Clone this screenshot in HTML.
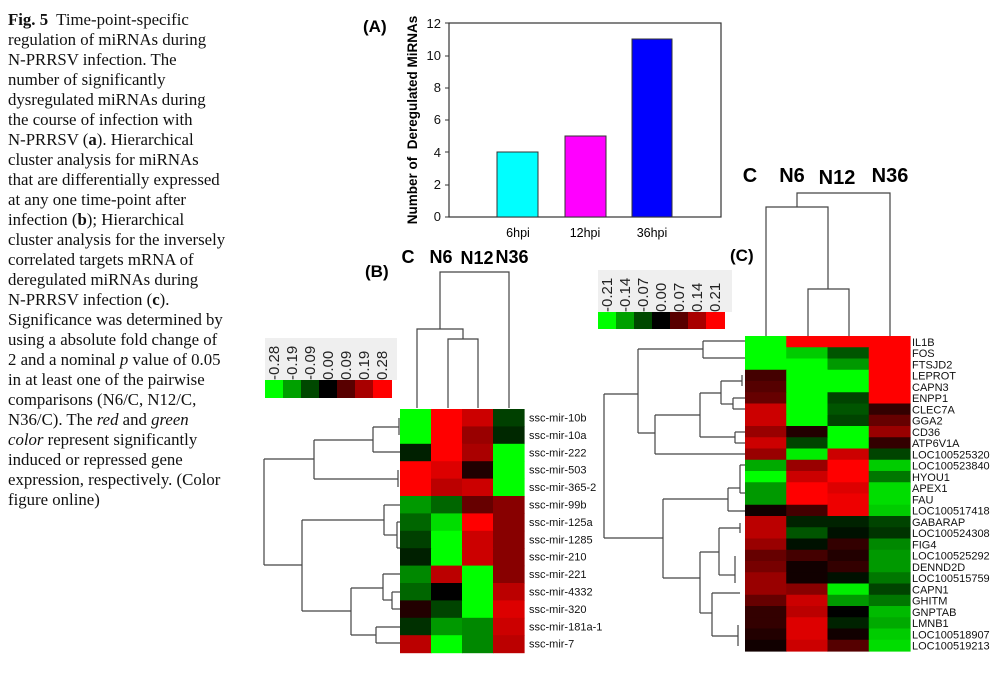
<!DOCTYPE html>
<html><head><meta charset="utf-8"><style>
body{margin:0;background:#fff;width:1007px;height:685px;overflow:hidden;position:relative}
.cap{position:absolute;left:8px;top:0;font-family:"Liberation Serif",serif;font-size:16.8px;color:#111}
.cap div{position:absolute;left:0;white-space:nowrap}
svg{position:absolute;left:0;top:0}
</style></head><body>
<div class="cap">
<div style="top:10px"><b>Fig. 5</b>&nbsp; Time-point-specific</div>
<div style="top:30px">regulation of miRNAs during</div>
<div style="top:50px">N-PRRSV infection. The</div>
<div style="top:70px">number of significantly</div>
<div style="top:90px">dysregulated miRNAs during</div>
<div style="top:110px">the course of infection with</div>
<div style="top:130px">N-PRRSV (<b>a</b>). Hierarchical</div>
<div style="top:150px">cluster analysis for miRNAs</div>
<div style="top:170px">that are differentially expressed</div>
<div style="top:190px">at any one time-point after</div>
<div style="top:210px">infection (<b>b</b>); Hierarchical</div>
<div style="top:230px">cluster analysis for the inversely</div>
<div style="top:250px">correlated targets mRNA of</div>
<div style="top:270px">deregulated miRNAs during</div>
<div style="top:290px">N-PRRSV infection (<b>c</b>).</div>
<div style="top:310px">Significance was determined by</div>
<div style="top:330px">using a absolute fold change of</div>
<div style="top:350px">2 and a nominal <i>p</i> value of 0.05</div>
<div style="top:370px">in at least one of the pairwise</div>
<div style="top:390px">comparisons (N6/C, N12/C,</div>
<div style="top:410px">N36/C). The <i>red</i> and <i>green</i></div>
<div style="top:430px"><i>color</i> represent significantly</div>
<div style="top:450px">induced or repressed gene</div>
<div style="top:470px">expression, respectively. (Color</div>
<div style="top:490px">figure online)</div>
</div>
<svg width="1007" height="685" font-family="Liberation Sans, sans-serif">
<!-- Panel A -->
<text x="363" y="32" font-size="17" font-weight="bold">(A)</text>
<rect x="449" y="23" width="272" height="194" fill="none" stroke="#333" stroke-width="1.2"/>
<g font-size="13" text-anchor="end" fill="#111">
<text x="441" y="221">0</text><text x="441" y="189">2</text><text x="441" y="157">4</text>
<text x="441" y="124">6</text><text x="441" y="92">8</text><text x="441" y="60">10</text><text x="441" y="28">12</text>
</g>
<g stroke="#333"><line x1="445" y1="217" x2="449" y2="217"/><line x1="445" y1="185" x2="449" y2="185"/><line x1="445" y1="152" x2="449" y2="152"/><line x1="445" y1="120" x2="449" y2="120"/><line x1="445" y1="88" x2="449" y2="88"/><line x1="445" y1="56" x2="449" y2="56"/><line x1="445" y1="23" x2="449" y2="23"/></g>
<text transform="translate(417,120) rotate(-90)" font-size="13.5" font-weight="bold" text-anchor="middle">Number of&#160; Deregulated MiRNAs</text>
<rect x="497" y="152" width="41" height="65" fill="#00ffff" stroke="#333"/>
<rect x="565" y="136" width="41" height="81" fill="#ff00ff" stroke="#333"/>
<rect x="632" y="39" width="40" height="178" fill="#0000ff" stroke="#333"/>
<g font-size="12.5" text-anchor="middle"><text x="518" y="237">6hpi</text><text x="585" y="237">12hpi</text><text x="652" y="237">36hpi</text></g>

<!-- Panel B -->
<text x="365" y="277" font-size="17" font-weight="bold">(B)</text>
<g font-size="18" font-weight="bold" text-anchor="middle"><text x="408" y="263">C</text><text x="441" y="263">N6</text><text x="477" y="264">N12</text><text x="512" y="263">N36</text></g>
<g fill="none" stroke="#444" stroke-width="1.2">
<polyline points="417,408 417,329 463,329 463,339"/>
<polyline points="448,408 448,339 478,339 478,408"/>
<polyline points="440,329 440,272 509,272 509,408"/>
<polyline points="264,459 264,565"/>
<polyline points="264,459 314,459"/><polyline points="314,440 314,479"/>
<polyline points="314,440 373,440"/><polyline points="373,427 373,452"/>
<polyline points="373,427 399,427"/><polyline points="399,418 399,435"/>
<polyline points="373,452 400,452"/>
<polyline points="314,479 398,479"/><polyline points="398,470 398,487"/>
<polyline points="264,565 302,565"/><polyline points="302,520 302,611"/>
<polyline points="302,520 384,520"/><polyline points="384,505 384,535"/>
<polyline points="384,505 400,505"/><polyline points="384,535 397,535"/><polyline points="397,522 397,548"/><polyline points="397,522 400,522"/><polyline points="397,548 400,548"/>
<polyline points="302,611 351,611"/><polyline points="351,588 351,635"/>
<polyline points="351,588 383,588"/><polyline points="383,574 383,600"/><polyline points="383,574 400,574"/><polyline points="383,600 392,600"/><polyline points="392,592 392,609"/><polyline points="392,592 400,592"/><polyline points="392,609 400,609"/>
<polyline points="351,635 376,635"/><polyline points="376,627 376,643"/><polyline points="376,627 400,627"/><polyline points="376,643 400,643"/>
</g>
<rect x="265" y="338" width="132" height="42" fill="#efefef"/>
<g font-size="15" fill="#222">
<text transform="translate(279,380) rotate(-90)">-0.28</text>
<text transform="translate(297,380) rotate(-90)">-0.19</text>
<text transform="translate(315,380) rotate(-90)">-0.09</text>
<text transform="translate(333,380) rotate(-90)">0.00</text>
<text transform="translate(351,380) rotate(-90)">0.09</text>
<text transform="translate(369,380) rotate(-90)">0.19</text>
<text transform="translate(387,380) rotate(-90)">0.28</text>
</g>
<rect x="265" y="380" width="19" height="18" fill="#00ff00"/><rect x="283" y="380" width="19" height="18" fill="#00a000"/><rect x="301" y="380" width="19" height="18" fill="#004800"/><rect x="319" y="380" width="19" height="18" fill="#000"/><rect x="337" y="380" width="19" height="18" fill="#580000"/><rect x="355" y="380" width="19" height="18" fill="#a80000"/><rect x="373" y="380" width="19" height="18" fill="#ff0000"/>
<g id="hb"></g>
<g font-size="11" fill="#111" id="lb"></g>

<!-- Panel C -->
<text x="730" y="261" font-size="17" font-weight="bold">(C)</text>
<g font-size="20" font-weight="bold" text-anchor="middle"><text x="750" y="182">C</text><text x="792" y="182">N6</text><text x="837" y="184">N12</text><text x="890" y="182">N36</text></g>
<g fill="none" stroke="#444" stroke-width="1.2">
<polyline points="766,336 766,207 828,207 828,289"/>
<polyline points="808,336 808,289 849,289 849,336"/>
<polyline points="797,207 797,193 890,193 890,336"/>
<polyline points="604,394 604,538"/>
<polyline points="604,394 638,394"/><polyline points="638,349 638,433"/>
<polyline points="638,349 703,349"/><polyline points="703,341 703,358"/><polyline points="703,341 745,341"/><polyline points="703,358 745,358"/>
<polyline points="638,433 655,433"/><polyline points="655,415 655,454"/><polyline points="655,454 745,454"/>
<polyline points="655,415 700,415"/><polyline points="700,393 700,437"/>
<polyline points="700,393 721,393"/><polyline points="721,381 721,404"/><polyline points="721,381 742,381"/><polyline points="742,375 742,386"/><polyline points="721,404 733,404"/><polyline points="733,398 733,409"/><polyline points="733,398 745,398"/><polyline points="733,409 745,409"/>
<polyline points="700,437 735,437"/><polyline points="735,432 735,443"/><polyline points="735,432 745,432"/><polyline points="735,443 745,443"/>
<polyline points="604,538 663,538"/><polyline points="663,499 663,578"/>
<polyline points="663,499 728,499"/><polyline points="728,488 728,511"/><polyline points="728,488 740,488"/><polyline points="740,465 740,493"/><polyline points="740,465 745,465"/><polyline points="740,493 745,493"/><polyline points="728,511 745,511"/>
<polyline points="663,578 700,578"/><polyline points="700,552 700,613"/>
<polyline points="700,552 719,552"/><polyline points="719,528 719,575"/><polyline points="719,528 740,528"/><polyline points="740,523 740,533"/><polyline points="719,575 735,575"/><polyline points="735,556 735,583"/>
<polyline points="700,613 712,613"/><polyline points="712,593 712,636"/><polyline points="712,593 740,593"/><polyline points="712,636 738,636"/><polyline points="738,625 738,646"/>
</g>
<rect x="598" y="270" width="134" height="42" fill="#efefef"/>
<g font-size="15" fill="#222">
<text transform="translate(612,312) rotate(-90)">-0.21</text>
<text transform="translate(630,312) rotate(-90)">-0.14</text>
<text transform="translate(648,312) rotate(-90)">-0.07</text>
<text transform="translate(666,312) rotate(-90)">0.00</text>
<text transform="translate(684,312) rotate(-90)">0.07</text>
<text transform="translate(702,312) rotate(-90)">0.14</text>
<text transform="translate(720,312) rotate(-90)">0.21</text>
</g>
<rect x="598" y="312" width="19" height="17" fill="#00ff00"/><rect x="616" y="312" width="19" height="17" fill="#00a000"/><rect x="634" y="312" width="19" height="17" fill="#004800"/><rect x="652" y="312" width="19" height="17" fill="#000"/><rect x="670" y="312" width="19" height="17" fill="#580000"/><rect x="688" y="312" width="19" height="17" fill="#a80000"/><rect x="706" y="312" width="19" height="17" fill="#ff0000"/>
<g id="hc"></g>
<g font-size="11" fill="#111" id="lc"></g>
</svg>
<script>
var NS="http://www.w3.org/2000/svg";
function R(g,x,y,w,h,f){var r=document.createElementNS(NS,"rect");r.setAttribute("x",x);r.setAttribute("y",y);r.setAttribute("width",w+0.6);r.setAttribute("height",h+0.6);r.setAttribute("fill",f);g.appendChild(r);}
function T(g,x,y,s){var t=document.createElementNS(NS,"text");t.setAttribute("x",x);t.setAttribute("y",y);t.textContent=s;g.appendChild(t);}
var B=[["ssc-mir-10b","#0f0","#f00","#c00","#004000"],["ssc-mir-10a","#0f0","#f00","#900","#002800"],["ssc-mir-222","#002000","#f00","#a00","#0f0"],["ssc-mir-503","#f00","#d00","#200000","#0f0"],["ssc-mir-365-2","#f00","#b00","#c00","#0f0"],["ssc-mir-99b","#090","#060","#600","#800"],["ssc-mir-125a","#060","#0d0","#f00","#800"],["ssc-mir-1285","#004000","#0f0","#c00","#800"],["ssc-mir-210","#002000","#0f0","#c00","#800"],["ssc-mir-221","#080","#b00","#0f0","#800"],["ssc-mir-4332","#060","#000","#0f0","#b00"],["ssc-mir-320","#200","#040","#0f0","#d00"],["ssc-mir-181a-1","#003000","#090","#080","#c00"],["ssc-mir-7","#b00","#0f0","#080","#b00"]];
var hb=document.getElementById("hb"),lb=document.getElementById("lb");
B.forEach(function(r,i){var y=409+i*17.4;for(var j=0;j<4;j++)R(hb,400+j*31,y,31,17.4,r[j+1]);T(lb,529,y+12.5,r[0]);});
var C=[["IL1B","#0f0","#f00","#f00","#f00"],["FOS","#0f0","#0c0","#050","#f00"],["FTSJD2","#0f0","#0f0","#090","#f00"],["LEPROT","#400","#0f0","#0f0","#f00"],["CAPN3","#500","#0f0","#0f0","#f00"],["ENPP1","#600","#0f0","#040","#f00"],["CLEC7A","#c00","#0f0","#050","#300"],["GGA2","#c00","#0f0","#040","#600"],["CD36","#900","#200","#0f0","#900"],["ATP6V1A","#c00","#040","#0f0","#300"],["LOC100525320","#900","#0e0","#c00","#040"],["LOC100523840","#0a0","#900","#f00","#0c0"],["HYOU1","#0f0","#c00","#f00","#070"],["APEX1","#090","#f00","#d00","#0d0"],["FAU","#090","#f00","#e00","#0d0"],["LOC100517418","#100","#400","#e00","#0c0"],["GABARAP","#b00","#020","#020","#040"],["LOC100524308","#b00","#050","#010","#030"],["FIG4","#900","#010","#300","#080"],["LOC100525292","#600","#400","#200","#090"],["DENND2D","#700","#100","#300","#090"],["LOC100515759","#900","#100","#010","#070"],["CAPN1","#900","#800","#0e0","#040"],["GHITM","#600","#c00","#090","#070"],["GNPTAB","#300","#b00","#000","#0b0"],["LMNB1","#300","#d00","#020","#0a0"],["LOC100518907","#200","#d00","#100","#0c0"],["LOC100519213","#100","#c00","#500","#0d0"]];
var hc=document.getElementById("hc"),lc=document.getElementById("lc");
C.forEach(function(r,i){var y=336+i*11.25;for(var j=0;j<4;j++)R(hc,745+j*41.25,y,41.25,11.25,r[j+1]);T(lc,912,y+9.8,r[0]);});
</script>
</body></html>
